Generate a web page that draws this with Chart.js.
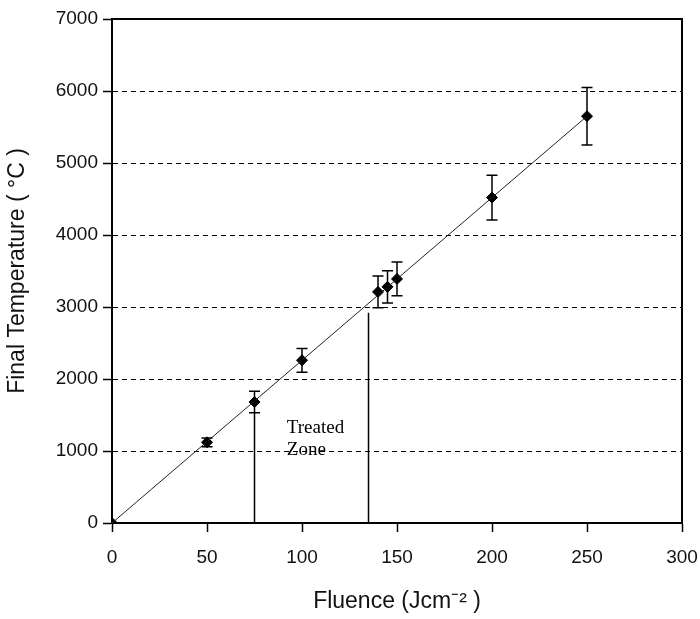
<!DOCTYPE html>
<html><head><meta charset="utf-8">
<script src="https://cdn.jsdelivr.net/npm/chart.js@4/dist/chart.umd.min.js"></script>
<style>html,body{margin:0;padding:0;background:#fff}#wrap{width:700px;height:619px}</style>
</head><body><div id="wrap"><canvas id="c" width="700" height="619"></canvas></div>
<script>
const fluence = [0, 50, 75, 100, 140, 145, 150, 200, 250];
const temperature = [0, 1120, 1680, 2260, 3210, 3280, 3390, 4520, 5650];
const errors = [0, 60, 150, 165, 220, 225, 235, 310, 400];
const fitX = [0, 250];
const fitY = [0, 5650];
const zoneX = [75, 135];
const zoneTop = [1540, 2920];
const xTicks = [0, 50, 100, 150, 200, 250, 300];
const yTicks = [0, 1000, 2000, 3000, 4000, 5000, 6000, 7000];
const zoneLabel = ['Treated', 'Zone'];

const points = fluence.map((x, i) => ({x, y: temperature[i], e: errors[i]}));

const errorBarPlugin = {
  id: 'errbars',
  afterDatasetsDraw(chart) {
    const ctx = chart.ctx, xs = chart.scales.x, ys = chart.scales.y;
    ctx.save();
    ctx.strokeStyle = '#000'; ctx.lineWidth = 1.5;
    points.forEach(p => {
      if (!p.e) return;
      const px = xs.getPixelForValue(p.x);
      const y1 = ys.getPixelForValue(p.y - p.e), y2 = ys.getPixelForValue(p.y + p.e);
      ctx.beginPath();
      ctx.moveTo(px, y1); ctx.lineTo(px, y2);
      ctx.moveTo(px - 5.5, y1); ctx.lineTo(px + 5.5, y1);
      ctx.moveTo(px - 5.5, y2); ctx.lineTo(px + 5.5, y2);
      ctx.stroke();
    });
    const a = chart.chartArea;
    ctx.lineWidth = 2;
    ctx.beginPath();
    ctx.moveTo(a.left, a.top); ctx.lineTo(a.right, a.top); ctx.lineTo(a.right, a.bottom);
    ctx.stroke();
    ctx.fillStyle = '#000';
    ctx.font = '19px "Liberation Serif", "Times New Roman", serif';
    ctx.textBaseline = 'middle';
    const lx = xs.getPixelForValue(92);
    ctx.fillText(zoneLabel[0], lx, ys.getPixelForValue(1320));
    ctx.fillText(zoneLabel[1], lx, ys.getPixelForValue(1020));
    ctx.restore();
  }
};

const lineDs = (data, w, col) => ({type: 'line', data, borderColor: col || '#000', borderWidth: w, pointRadius: 0, fill: false, tension: 0});
const sans = '"Liberation Sans", Arial, sans-serif';

new Chart(document.getElementById('c'), {
  type: 'scatter',
  data: {
    datasets: [
      lineDs(fitX.map((x, i) => ({x, y: fitY[i]})), 1, '#222'),
      lineDs([{x: zoneX[0], y: 0}, {x: zoneX[0], y: zoneTop[0]}], 1.5),
      lineDs([{x: zoneX[1], y: 0}, {x: zoneX[1], y: zoneTop[1]}], 1.5),
      {type: 'scatter', data: points, pointStyle: 'rectRot', pointRadius: 5.5, backgroundColor: '#000', borderColor: '#000', borderWidth: 1}
    ]
  },
  options: {
    responsive: false, animation: false,
    layout: {padding: {left: 0, right: 18, top: 19, bottom: 0}},
    plugins: {legend: {display: false}, tooltip: {enabled: false}},
    scales: {
      x: {
        type: 'linear', min: 0, max: 300,
        afterBuildTicks: s => { s.ticks = xTicks.map(v => ({value: v})); },
        afterFit: s => { s.height = 96; s.paddingRight = 0; s.paddingLeft = 0; },
        grid: {drawOnChartArea: false, drawTicks: true, tickLength: 9, tickColor: '#000', tickWidth: 1.5},
        border: {color: '#000', width: 2},
        ticks: {color: '#111', font: {family: sans, size: 19}, padding: 14, maxRotation: 0, callback: v => String(v)},
        title: {display: true, text: 'Fluence (Jcm\u207B\u00B2 )', color: '#111', font: {family: sans, size: 23}}
      },
      y: {
        type: 'linear', min: 0, max: 7000,
        afterBuildTicks: s => { s.ticks = yTicks.map(v => ({value: v})); },
        afterFit: s => { s.width = 112; s.paddingTop = 0; s.paddingBottom = 0; },
        grid: {
          color: c => (c.tick && (c.tick.value === 0 || c.tick.value === 7000)) ? 'rgba(0,0,0,0)' : '#000',
          lineWidth: 1,
          drawTicks: true, tickLength: 9, tickColor: '#000', tickWidth: 1.5, tickBorderDash: []
        },
        border: {color: '#000', width: 2, dash: [5, 4]},
        ticks: {color: '#111', font: {family: sans, size: 19}, padding: 5, callback: v => String(v)},
        title: {display: true, text: 'Final Temperature ( \u00B0C )', color: '#111', font: {family: sans, size: 23}, padding: {top: 4, bottom: 0}}
      }
    }
  },
  plugins: [errorBarPlugin]
});
</script></body></html>
